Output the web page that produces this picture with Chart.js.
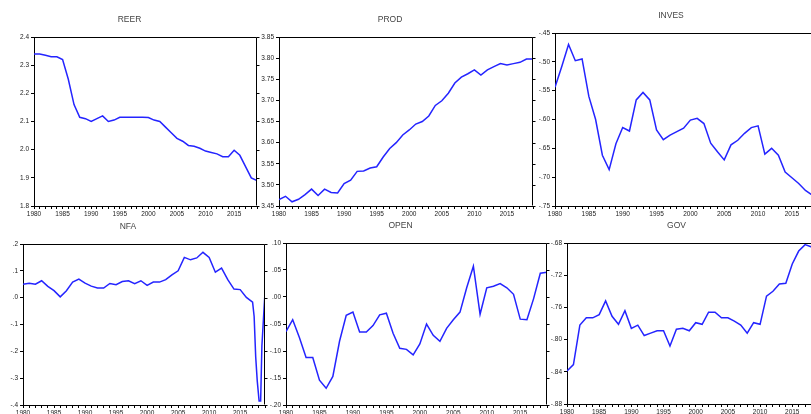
<!DOCTYPE html>
<html>
<head>
<meta charset="utf-8">
<script src="https://cdn.jsdelivr.net/npm/chart.js@4.4.1/dist/chart.umd.min.js"></script>
<style>
body { margin: 0; background: #fff; width: 811px; height: 414px; overflow: hidden; position: relative; }
canvas { position: absolute; }
</style>
</head>
<body>
<script>
// yearly observations
const years = [1980, 1981, 1982, 1983, 1984, 1985, 1986, 1987, 1988, 1989,
               1990, 1991, 1992, 1993, 1994, 1995, 1996, 1997, 1998, 1999,
               2000, 2001, 2002, 2003, 2004, 2005, 2006, 2007, 2008, 2009,
               2010, 2011, 2012, 2013, 2014, 2015, 2016, 2017, 2018, 2019];

const reer = [2.34, 2.34, 2.335, 2.33, 2.33, 2.32, 2.25, 2.16, 2.115, 2.11,
              2.10, 2.11, 2.12, 2.10, 2.105, 2.115, 2.115, 2.115, 2.115, 2.115,
              2.114, 2.105, 2.10, 2.08, 2.06, 2.04, 2.03, 2.015, 2.012, 2.005,
              1.995, 1.99, 1.985, 1.975, 1.975, 1.998, 1.98, 1.94, 1.90, 1.89];

const prod = [3.465, 3.473, 3.46, 3.466, 3.477, 3.49, 3.475, 3.49, 3.482, 3.481,
              3.503, 3.511, 3.532, 3.533, 3.54, 3.543, 3.566, 3.586, 3.60, 3.618,
              3.63, 3.644, 3.65, 3.663, 3.688, 3.699, 3.717, 3.741, 3.755, 3.763,
              3.772, 3.76, 3.772, 3.78, 3.787, 3.784, 3.787, 3.79, 3.798, 3.798];

const inves = [-0.544, -0.508, -0.47, -0.498, -0.495, -0.56, -0.60, -0.662, -0.687, -0.642,
               -0.614, -0.62, -0.566, -0.553, -0.566, -0.618, -0.635, -0.627, -0.621, -0.615,
               -0.601, -0.598, -0.607, -0.641, -0.656, -0.67, -0.644, -0.636, -0.624, -0.614,
               -0.611, -0.66, -0.65, -0.662, -0.691, -0.701, -0.711, -0.723, -0.731, -0.74];

// NFA has a sharp dip at the end, read at finer spacing
const nfaX = [1980, 1981, 1982, 1983, 1984, 1985, 1986, 1987, 1988, 1989,
              1990, 1991, 1992, 1993, 1994, 1995, 1996, 1997, 1998, 1999,
              2000, 2001, 2002, 2003, 2004, 2005, 2006, 2007, 2008, 2009,
              2010, 2011, 2012, 2013, 2014, 2015, 2016, 2017,
              2017.25, 2017.5, 2017.75, 2018.05, 2018.3, 2018.5, 2018.75, 2019];
const nfa = [0.05, 0.054, 0.05, 0.063, 0.042, 0.026, 0.003, 0.026, 0.058, 0.069,
             0.054, 0.043, 0.036, 0.036, 0.053, 0.048, 0.06, 0.063, 0.052, 0.063,
             0.046, 0.058, 0.058, 0.067, 0.085, 0.10, 0.15, 0.141, 0.148, 0.169,
             0.15, 0.095, 0.11, 0.067, 0.032, 0.03, 0.001, -0.017,
             -0.07, -0.22, -0.31, -0.385, -0.385, -0.18, -0.08, 0.02];

const open = [-0.064, -0.042, -0.075, -0.112, -0.112, -0.154, -0.169, -0.147, -0.082, -0.034,
              -0.028, -0.065, -0.065, -0.053, -0.033, -0.03, -0.067, -0.095, -0.097, -0.107,
              -0.087, -0.05, -0.071, -0.082, -0.058, -0.042, -0.028, 0.017, 0.057, -0.032,
              0.017, 0.02, 0.025, 0.017, 0.005, -0.041, -0.042, -0.003, 0.044, 0.046];

const gov = [-0.839, -0.831, -0.782, -0.773, -0.773, -0.769, -0.752, -0.771, -0.781, -0.764,
             -0.786, -0.782, -0.795, -0.792, -0.789, -0.789, -0.808, -0.787, -0.786, -0.789,
             -0.779, -0.781, -0.766, -0.766, -0.773, -0.773, -0.777, -0.782, -0.792, -0.779,
             -0.781, -0.746, -0.74, -0.731, -0.73, -0.706, -0.69, -0.682, -0.685, -0.688];

// eviews style numbers: ".10", "-.45"
function fmt(v, d) {
    let s = Math.abs(v).toFixed(d);
    if (s[0] === '0') s = s.slice(1);
    return (v < -1e-9 ? '-' : '') + s;
}

const frame = {
    id: 'frame',
    afterDraw(chart) {
        const ctx = chart.ctx, a = chart.chartArea, y = chart.scales.y;
        const l = Math.round(a.left) + 0.5, r = Math.round(a.right) - 0.5;
        const t = Math.round(a.top) + 0.5, b = Math.round(a.bottom) - 0.5;
        ctx.save();
        ctx.strokeStyle = '#000';
        ctx.lineWidth = 1;
        ctx.beginPath();
        ctx.moveTo(l, t); ctx.lineTo(r, t); ctx.lineTo(r, b);
        y.ticks.forEach(tk => {
            const py = Math.round(y.getPixelForValue(tk.value)) + 0.5;
            ctx.moveTo(r, py); ctx.lineTo(r + 3, py);
        });
        ctx.stroke();
        ctx.restore();
    }
};

const FONT = '"Liberation Sans", Arial, sans-serif';
const TOP = 30, LEFT = 32, BOTTOM = 18;

function panel(title, xs, ys, box, yMin, yMax, yStep, dec) {
    const [L, T, R, B] = box;
    const cv = document.createElement('canvas');
    const w = LEFT + (R - L) + LEFT, h = TOP + (B - T) + BOTTOM;
    cv.width = w; cv.height = h;
    cv.style.left = (L - LEFT) + 'px';
    cv.style.top = (T - TOP) + 'px';
    document.body.appendChild(cv);

    new Chart(cv.getContext('2d'), {
        type: 'line',
        data: {
            datasets: [{
                data: xs.map((x, i) => ({ x: x, y: ys[i] })),
                borderColor: '#2424ff',
                borderWidth: 1.5,
                pointRadius: 0,
                tension: 0,
                fill: false
            }]
        },
        options: {
            responsive: false,
            animation: false,
            devicePixelRatio: 1,
            layout: { padding: { left: 0, right: LEFT, top: 0, bottom: 0 } },
            plugins: {
                legend: { display: false },
                tooltip: { enabled: false },
                title: {
                    display: true,
                    text: title,
                    color: '#444',
                    font: { family: FONT, size: 8.5, weight: 'normal', lineHeight: 1 },
                    padding: { top: 8.75, bottom: 12.75 }
                }
            },
            scales: {
                x: {
                    type: 'linear',
                    min: 1980,
                    max: 2019,
                    afterFit: s => { s.height = BOTTOM; },
                    border: { color: '#000', width: 1 },
                    grid: { drawOnChartArea: false, drawTicks: true, tickLength: 3, color: '#000' },
                    ticks: {
                        stepSize: 1,
                        autoSkip: false,
                        maxRotation: 0,
                        padding: 1,
                        color: '#222',
                        font: { family: FONT, size: 6.5 },
                        callback: v => (v % 5 === 0 ? String(v) : '')
                    }
                },
                y: {
                    min: yMin,
                    max: yMax,
                    afterFit: s => { s.width = LEFT; },
                    border: { color: '#000', width: 1 },
                    grid: { drawOnChartArea: false, drawTicks: true, tickLength: 3, color: '#000' },
                    ticks: {
                        stepSize: yStep,
                        padding: 2,
                        color: '#222',
                        font: { family: FONT, size: 6.5 },
                        callback: v => fmt(v, dec)
                    }
                }
            }
        },
        plugins: [frame]
    });
}

panel('REER', years, reer, [34, 37, 257, 206], 1.8, 2.4, 0.1, 1);
panel('PROD', years, prod, [279, 37, 533, 206], 3.45, 3.85, 0.05, 2);
panel('INVES', years, inves, [555, 33, 819, 206], -0.75, -0.45, 0.05, 2);
panel('NFA', nfaX, nfa, [23, 244, 265, 405], -0.4, 0.2, 0.1, 1);
panel('OPEN', years, open, [286, 243, 547, 405], -0.20, 0.10, 0.05, 2);
panel('GOV', years, gov, [567, 243, 818, 404], -0.88, -0.68, 0.04, 2);
</script>
</body>
</html>
